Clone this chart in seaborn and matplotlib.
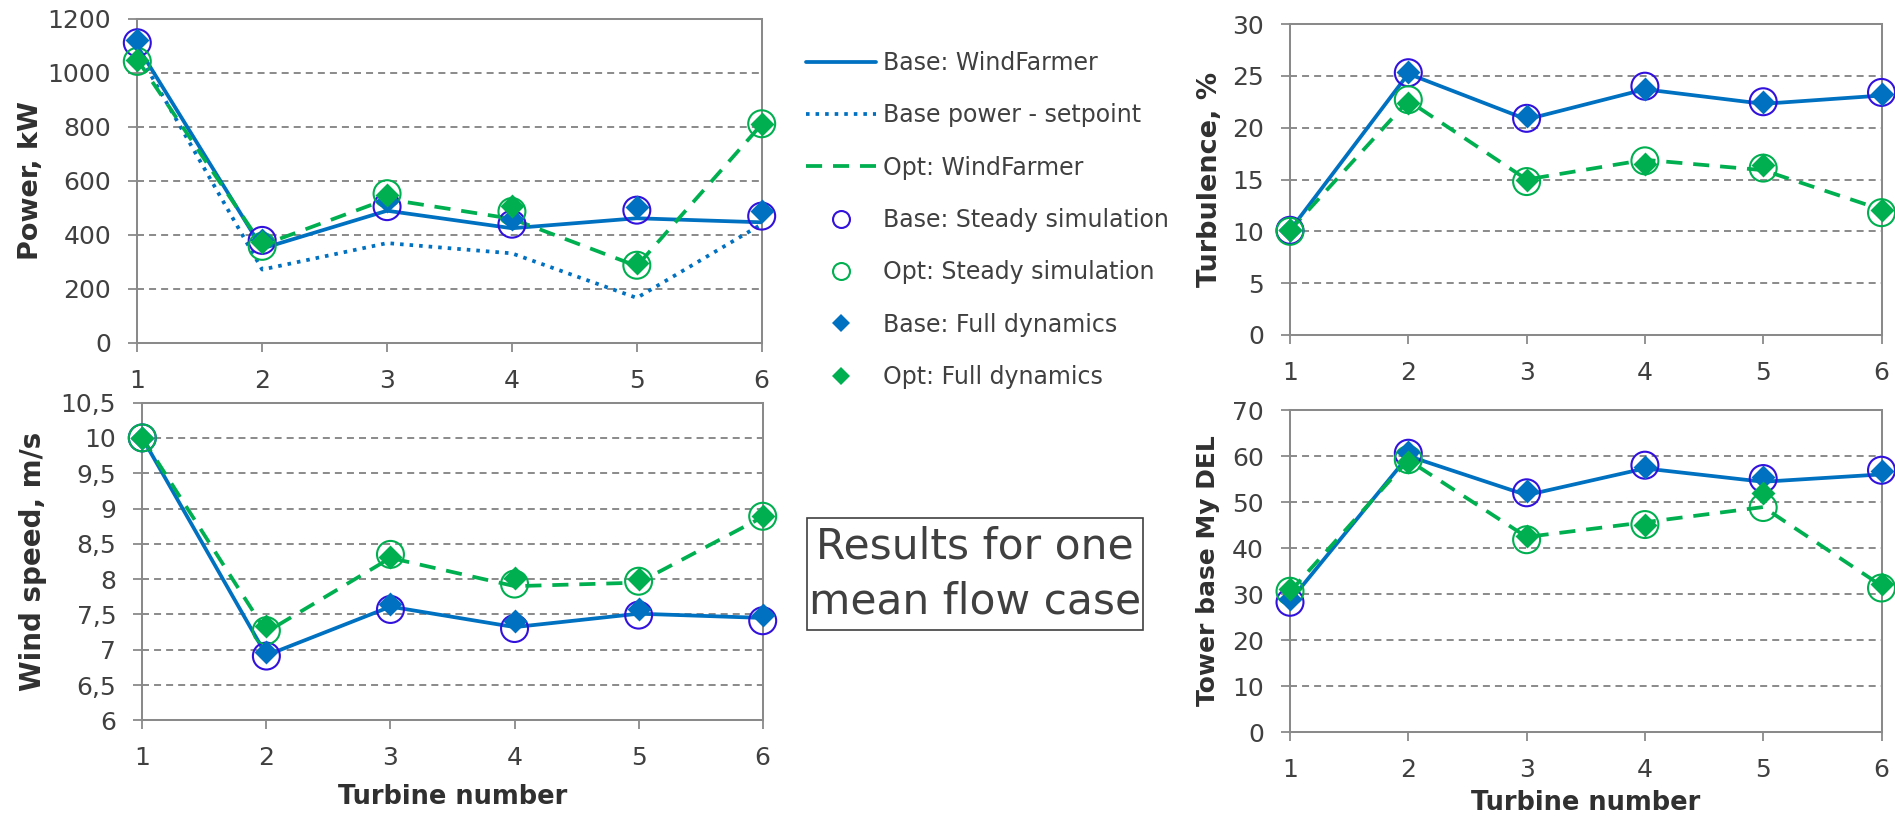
import matplotlib
matplotlib.use("Agg")
import matplotlib.pyplot as plt
from matplotlib.lines import Line2D
from matplotlib.patches import Rectangle
from matplotlib.ticker import FuncFormatter
import seaborn as sns

# ---------------------------------------------------------------- data
turbines = [1, 2, 3, 4, 5, 6]
series_labels = [
    "Base: WindFarmer",
    "Base power - setpoint",
    "Opt: WindFarmer",
    "Base: Steady simulation",
    "Opt: Steady simulation",
    "Base: Full dynamics",
    "Opt: Full dynamics",
]

# Power, kW
power_base_wf = [1100, 350, 490, 425, 462, 447]
power_base_setpoint = [1080, 272, 370, 332, 167, 440]
power_opt_wf = [1050, 362, 533, 460, 285, 810]
power_base_steady = [1112, 380, 505, 440, 492, 470]
power_opt_steady = [1043, 358, 553, 487, 288, 812]
power_base_full = [1122, 383, 527, 460, 502, 490]
power_opt_full = [1050, 373, 548, 508, 296, 810]

# Wind speed, m/s
wind_base_wf = [10.0, 6.92, 7.61, 7.32, 7.51, 7.45]
wind_opt_wf = [10.0, 7.25, 8.30, 7.90, 7.95, 8.88]
wind_base_steady = [10.0, 6.91, 7.57, 7.30, 7.49, 7.41]
wind_opt_steady = [10.0, 7.27, 8.35, 7.93, 7.97, 8.89]
wind_base_full = [10.0, 6.97, 7.65, 7.41, 7.58, 7.49]
wind_opt_full = [10.0, 7.33, 8.32, 8.01, 8.00, 8.89]

# Turbulence, %
turb_base_wf = [10.1, 25.2, 20.8, 23.7, 22.3, 23.1]
turb_opt_wf = [10.1, 22.6, 15.0, 16.9, 15.9, 12.1]
turb_base_steady = [10.1, 25.3, 20.9, 24.0, 22.5, 23.4]
turb_opt_steady = [10.0, 22.7, 14.8, 16.8, 16.1, 11.8]
turb_base_full = [10.1, 25.4, 21.1, 23.7, 22.5, 23.2]
turb_opt_full = [10.1, 22.4, 15.0, 16.5, 16.4, 12.1]

# Tower base My DEL
del_base_wf = [28.5, 60.0, 51.5, 57.3, 54.4, 56.0]
del_opt_wf = [30.5, 59.1, 42.4, 45.6, 48.9, 31.8]
del_base_steady = [28.2, 60.6, 52.0, 58.0, 55.1, 56.9]
del_opt_steady = [30.6, 59.2, 41.8, 45.1, 48.8, 31.3]
del_base_full = [28.9, 60.9, 52.5, 57.6, 55.5, 56.8]
del_opt_full = [31.1, 58.7, 42.7, 45.1, 52.0, 32.2]

power_ticks = [0, 200, 400, 600, 800, 1000, 1200]
wind_ticks = [6, 6.5, 7, 7.5, 8, 8.5, 9, 9.5, 10, 10.5]
turb_ticks = [0, 5, 10, 15, 20, 25, 30]
del_ticks = [0, 10, 20, 30, 40, 50, 60, 70]

note_text = "Results for one\nmean flow case"

# ---------------------------------------------------------------- style
sns.set_theme(style="white")
plt.rcParams["font.family"] = ["DejaVu Sans"]

BLUE = "#0070C0"
GREEN = "#00B050"
RING_BLUE = "#3311DD"
GREY = "#8A8A8A"
TEXT = "#404040"
LABEL = "#303030"

LW = 2.7
DASH = (4.3, 2.9)
DOT = (0.95, 1.6)
RING_S = 19.4 ** 2
DIAMOND_S = 12.2 ** 2

fig = plt.figure(figsize=(18.95, 8.17), dpi=100)
fig.patch.set_facecolor("white")


def comma_fmt(v, _):
    return f"{v:g}".replace(".", ",")


def draw_panel(rect, base_wf, opt_wf, base_steady, opt_steady, base_full,
               opt_full, ticks, ylabel, ylabel_size, ylabel_x,
               setpoint=None, xlabel_y=None, decimal_comma=False):
    ax = fig.add_axes(rect)
    ax.set_facecolor("white")

    sns.lineplot(x=turbines, y=base_wf, ax=ax, color=BLUE, linewidth=LW,
                 zorder=3)
    if setpoint is not None:
        sns.lineplot(x=turbines, y=setpoint, ax=ax, color=BLUE,
                     linewidth=LW, zorder=3)
        ax.lines[-1].set_dashes(DOT)
        ax.lines[-1].set_dash_capstyle("butt")
    sns.lineplot(x=turbines, y=opt_wf, ax=ax, color=GREEN, linewidth=LW,
                 zorder=3)
    ax.lines[-1].set_dashes(DASH)

    sns.scatterplot(x=turbines, y=base_steady, ax=ax, marker="o", s=RING_S,
                    facecolor="none", edgecolor=RING_BLUE, linewidth=1.5,
                    zorder=4, clip_on=False)
    sns.scatterplot(x=turbines, y=opt_steady, ax=ax, marker="o", s=RING_S,
                    facecolor="none", edgecolor=GREEN, linewidth=1.5,
                    zorder=4, clip_on=False)
    sns.scatterplot(x=turbines, y=base_full, ax=ax, marker="D",
                    s=DIAMOND_S, color=BLUE, linewidth=0, zorder=5,
                    clip_on=False)
    sns.scatterplot(x=turbines, y=opt_full, ax=ax, marker="D",
                    s=DIAMOND_S, color=GREEN, linewidth=0, zorder=5,
                    clip_on=False)

    ax.set_xlim(turbines[0], turbines[-1])
    ax.set_xticks(turbines)
    ax.set_ylim(ticks[0], ticks[-1])
    ax.set_yticks(ticks)
    if decimal_comma:
        ax.yaxis.set_major_formatter(FuncFormatter(comma_fmt))

    ax.grid(axis="y", color=GREY, linewidth=1.4, linestyle=(0, (3.6, 2.6)))
    ax.grid(axis="x", visible=False)
    ax.set_axisbelow(True)
    for sp in ax.spines.values():
        sp.set_visible(True)
        sp.set_color(GREY)
        sp.set_linewidth(1.45)
        sp.set_zorder(2)

    ax.tick_params(axis="both", which="major", direction="out", length=6.5,
                   width=1.3, color=GREY, labelsize=18, labelcolor=TEXT,
                   pad=12.3, bottom=True, left=True, top=False, right=False)

    ax.set_ylabel(ylabel, fontsize=ylabel_size, fontweight="bold",
                  color=LABEL)
    ax.yaxis.set_label_coords(ylabel_x, 0.5)
    if xlabel_y is not None:
        ax.set_xlabel("Turbine number", fontsize=18.5, fontweight="bold",
                      color=LABEL)
        ax.xaxis.set_label_coords(0.5, xlabel_y)
    else:
        ax.set_xlabel("")
    return ax


# figure-fraction rectangles of the four plot areas
W, H = 1895.0, 817.0


def rect_px(x0, x1, y_top, y_bottom):
    return [x0 / W, 1 - y_bottom / H, (x1 - x0) / W, (y_bottom - y_top) / H]


draw_panel(rect_px(137.3, 761.7, 19, 343),
           power_base_wf, power_opt_wf, power_base_steady, power_opt_steady,
           power_base_full, power_opt_full, power_ticks, "Power, kW", 19.5,
           -0.149, setpoint=power_base_setpoint)

draw_panel(rect_px(142.3, 762.7, 402.6, 720.3),
           wind_base_wf, wind_opt_wf, wind_base_steady, wind_opt_steady,
           wind_base_full, wind_opt_full, wind_ticks, "Wind speed, m/s", 20,
           -0.1536, xlabel_y=-0.2005, decimal_comma=True)

draw_panel(rect_px(1290, 1881.5, 24, 335),
           turb_base_wf, turb_opt_wf, turb_base_steady, turb_opt_steady,
           turb_base_full, turb_opt_full, turb_ticks, "Turbulence, %", 19.5,
           -0.113)

draw_panel(rect_px(1290, 1881.5, 410, 732),
           del_base_wf, del_opt_wf, del_base_steady, del_opt_steady,
           del_base_full, del_opt_full, del_ticks, "Tower base My DEL", 18,
           -0.118, xlabel_y=-0.180)

# ---------------------------------------------------------------- legend
handles = [
    Line2D([], [], color=BLUE, linewidth=LW),
    Line2D([], [], color=BLUE, linewidth=LW, dashes=DOT,
           dash_capstyle="butt"),
    Line2D([], [], color=GREEN, linewidth=LW, dashes=DASH),
    Line2D([], [], linestyle="none", marker="o", markersize=12.2,
           markerfacecolor="none", markeredgecolor=RING_BLUE,
           markeredgewidth=1.5),
    Line2D([], [], linestyle="none", marker="o", markersize=12.2,
           markerfacecolor="none", markeredgecolor=GREEN,
           markeredgewidth=1.5),
    Line2D([], [], linestyle="none", marker="D", markersize=8.7,
           markerfacecolor=BLUE, markeredgewidth=0),
    Line2D([], [], linestyle="none", marker="D", markersize=8.7,
           markerfacecolor=GREEN, markeredgewidth=0),
]
fig.legend(handles, series_labels, loc="upper left",
           bbox_to_anchor=(806 / W, 1 - 51 / H), frameon=False,
           fontsize=17, labelcolor=TEXT, handlelength=2.97,
           handletextpad=0.3, labelspacing=1.2, borderpad=0,
           borderaxespad=0)

# ---------------------------------------------------------------- note box
box_x0, box_x1, box_y0, box_y1 = 806.7, 1142.7, 518, 630
fig.patches.append(Rectangle((box_x0 / W, 1 - box_y1 / H),
                             (box_x1 - box_x0) / W, (box_y1 - box_y0) / H,
                             transform=fig.transFigure, fill=False,
                             edgecolor=TEXT, linewidth=1.2))
fig.text((box_x0 + box_x1) / 2 / W, 1 - (box_y0 + box_y1) / 2 / H,
         note_text, ha="center", va="center", fontsize=30.5, color=TEXT,
         linespacing=1.42)

fig.savefig("out.png", dpi=100, facecolor="white")
